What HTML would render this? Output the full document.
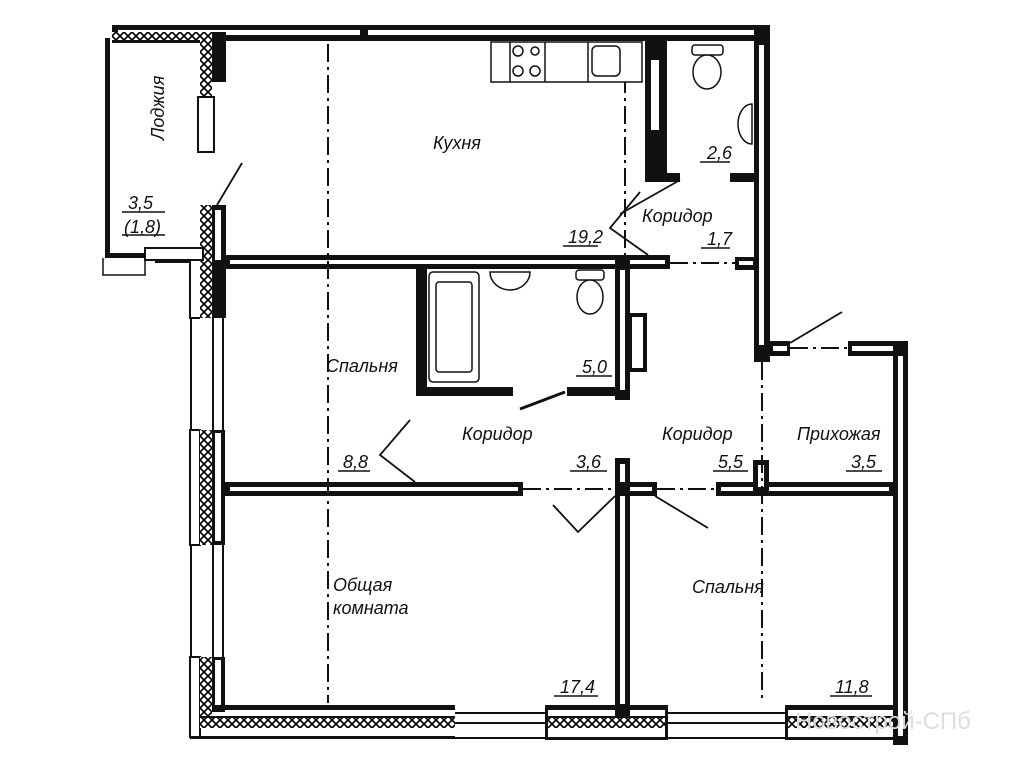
<!DOCTYPE html>
<html><head><meta charset="utf-8"><style>
html,body{margin:0;padding:0;background:#fff;}
svg{display:block}
text{font-family:"Liberation Sans",sans-serif;font-style:italic;font-size:18px;fill:#111}
</style></head><body>
<svg width="1010" height="768" viewBox="0 0 1010 768" xmlns="http://www.w3.org/2000/svg">
<defs>
<pattern id="hx" width="8" height="8" patternUnits="userSpaceOnUse">
<rect width="8" height="8" fill="#fff"/>
<path d="M0 4 L4 0 L8 4 L4 8 Z" fill="none" stroke="#000" stroke-width="1.6"/>
</pattern>
</defs>
<g fill="#111" stroke="none">
<!-- top wall -->
<rect x="112" y="25" width="658" height="16"/>
<rect x="118" y="30" width="646" height="5" fill="#fff"/>
<rect x="360" y="25" width="8" height="16"/>
<!-- loggia -->
<rect x="105" y="38" width="5" height="220"/>
<rect x="105" y="253" width="50" height="5"/>
<rect x="112" y="32" width="100" height="10" fill="url(#hx)"/>
<rect x="112" y="40" width="100" height="3"/>
<rect x="200" y="32" width="12" height="65" fill="url(#hx)"/>
<rect x="212" y="32" width="14" height="50"/>
<rect x="198" y="97" width="16" height="55" fill="#fff" stroke="#111" stroke-width="2"/>
<rect x="200" y="205" width="12" height="113" fill="url(#hx)"/>
<rect x="212" y="205" width="14" height="113"/>
<rect x="215" y="210" width="6" height="50" fill="#fff"/>
<rect x="145" y="248" width="58" height="12" fill="#fff" stroke="#111" stroke-width="2"/>
<path d="M155 262 L190 262 L190 318 L200 318" fill="none" stroke="#111" stroke-width="2"/>
<path d="M103 258 L103 275 L145 275 L145 260" fill="none" stroke="#111" stroke-width="1.5"/>
<!-- left wall -->
<rect x="190" y="430" width="10" height="115" fill="#fff" stroke="#111" stroke-width="2"/>
<rect x="200" y="430" width="12" height="115" fill="url(#hx)"/>
<rect x="212" y="430" width="13" height="115"/>
<rect x="215" y="433" width="6" height="108" fill="#fff"/>
<rect x="190" y="657" width="10" height="80" fill="#fff" stroke="#111" stroke-width="2"/>
<rect x="200" y="657" width="12" height="70" fill="url(#hx)"/>
<rect x="212" y="657" width="13" height="55"/>
<rect x="215" y="660" width="6" height="45" fill="#fff"/>
<rect x="212" y="318" width="2" height="112"/><rect x="222" y="318" width="2" height="112"/><rect x="190" y="318" width="2" height="112"/>
<rect x="212" y="545" width="2" height="112"/><rect x="222" y="545" width="2" height="112"/><rect x="190" y="545" width="2" height="112"/>
<!-- bottom wall -->
<rect x="212" y="705" width="243" height="5"/>
<rect x="200" y="718" width="255" height="10" fill="url(#hx)"/>
<rect x="200" y="716" width="255" height="2"/>
<rect x="190" y="736" width="265" height="3"/>
<rect x="545" y="705" width="123" height="5"/>
<rect x="545" y="718" width="123" height="10" fill="url(#hx)"/>
<rect x="545" y="716" width="123" height="2"/>
<rect x="545" y="737" width="123" height="3"/>
<rect x="545" y="705" width="3" height="35"/><rect x="665" y="705" width="3" height="35"/>
<rect x="785" y="705" width="110" height="5"/>
<rect x="785" y="718" width="110" height="10" fill="url(#hx)"/>
<rect x="785" y="716" width="110" height="2"/>
<rect x="785" y="737" width="110" height="3"/>
<rect x="785" y="705" width="3" height="35"/>
<rect x="455" y="712" width="90" height="2"/><rect x="455" y="722" width="90" height="2"/><rect x="455" y="737" width="90" height="2"/>
<rect x="668" y="712" width="117" height="2"/><rect x="668" y="722" width="117" height="2"/><rect x="668" y="737" width="117" height="2"/>
<!-- right walls -->
<rect x="754" y="25" width="16" height="337"/>
<rect x="759" y="45" width="5" height="300" fill="#fff"/>
<rect x="770" y="341" width="20" height="15"/><rect x="773" y="346" width="14" height="5" fill="#fff"/>
<rect x="848" y="341" width="60" height="15"/><rect x="852" y="346" width="52" height="5" fill="#fff"/>
<rect x="893" y="341" width="15" height="404"/><rect x="898" y="356" width="5" height="380" fill="#fff"/>
<!-- kitchen/bedroom wall -->
<rect x="225" y="255" width="445" height="14"/>
<rect x="230" y="260" width="435" height="4" fill="#fff"/>
<rect x="735" y="257" width="20" height="13"/><rect x="739" y="261" width="14" height="4" fill="#fff"/>
<!-- WC upper -->
<rect x="645" y="40" width="22" height="142"/>
<rect x="651" y="60" width="8" height="70" fill="#fff"/>
<rect x="645" y="173" width="35" height="9"/>
<rect x="730" y="173" width="26" height="9"/>
<!-- bathroom -->
<rect x="416" y="268" width="11" height="128"/>
<rect x="416" y="387" width="97" height="9"/>
<rect x="567" y="387" width="63" height="9"/>
<rect x="615" y="258" width="15" height="142"/>
<rect x="620" y="270" width="5" height="120" fill="#fff"/>
<rect x="630" y="315" width="15" height="55" fill="#fff" stroke="#111" stroke-width="4"/>
<!-- middle horizontal walls -->
<rect x="225" y="482" width="298" height="14"/>
<rect x="230" y="487" width="288" height="4" fill="#fff"/>
<rect x="615" y="458" width="15" height="258"/>
<rect x="620" y="464" width="5" height="240" fill="#fff"/>
<rect x="615" y="482" width="42" height="14"/><rect x="630" y="487" width="22" height="4" fill="#fff"/>
<rect x="716" y="482" width="178" height="14"/><rect x="721" y="487" width="168" height="4" fill="#fff"/>
<rect x="753" y="460" width="16" height="36"/><rect x="758" y="465" width="6" height="22" fill="#fff"/>
</g>
<!-- axis lines -->
<g stroke="#111" stroke-width="2" stroke-dasharray="18,5,3,5" fill="none">
<line x1="328" y1="44" x2="328" y2="703"/>
<line x1="625" y1="44" x2="625" y2="255"/>
<line x1="762" y1="362" x2="762" y2="703"/>
<line x1="523" y1="489" x2="615" y2="489"/>
<line x1="657" y1="489" x2="716" y2="489"/>
<line x1="670" y1="263" x2="735" y2="263"/>
<line x1="790" y1="348" x2="848" y2="348"/>
</g>
<!-- door swings / leaders -->
<g stroke="#111" stroke-width="1.8" fill="none">
<line x1="217" y1="205" x2="242" y2="163"/>
<line x1="680" y1="180" x2="620" y2="214"/>
<path d="M640 192 L610 228 L648 255"/>
<line x1="790" y1="343" x2="842" y2="312"/>
<path d="M410 420 L380 455 L415 482"/>
<line x1="520" y1="409" x2="565" y2="392" stroke-width="3"/>
<path d="M553 505 L578 532 L615 496"/>
<line x1="655" y1="496" x2="708" y2="528"/>
</g>
<!-- fixtures -->
<g fill="#fff" stroke="#111" stroke-width="1.5">
<rect x="491" y="42" width="151" height="40"/>
<line x1="510" y1="42" x2="510" y2="82"/><line x1="545" y1="42" x2="545" y2="82"/><line x1="588" y1="42" x2="588" y2="82"/>
<circle cx="518" cy="51" r="5"/><circle cx="535" cy="51" r="4"/><circle cx="518" cy="71" r="5"/><circle cx="535" cy="71" r="5"/>
<rect x="592" y="46" width="28" height="30" rx="5"/>
<rect x="692" y="45" width="31" height="10" rx="3"/>
<ellipse cx="707" cy="72" rx="14" ry="17"/>
<path d="M752 104 A14 20 0 0 0 752 144 Z"/>
<rect x="429" y="272" width="50" height="110" rx="4"/>
<rect x="436" y="282" width="36" height="90" rx="3"/>
<path d="M490 272 A20 18 0 0 0 530 272 Z"/>
<rect x="576" y="270" width="28" height="10" rx="3"/>
<ellipse cx="590" cy="297" rx="13" ry="17"/>
</g>
<!-- labels -->
<text x="0" y="0" transform="translate(164,140) rotate(-90)" font-size="18">Лоджия</text>
<text x="128" y="209">3,5</text>
<text x="124" y="233">(1,8)</text>
<line x1="122" y1="212" x2="165" y2="212" stroke="#111" stroke-width="1.5"/>
<line x1="122" y1="235" x2="165" y2="235" stroke="#111" stroke-width="1.5"/>
<text x="433" y="149">Кухня</text>
<text x="707" y="159">2,6</text><line x1="700" y1="162" x2="730" y2="162" stroke="#111" stroke-width="1.5"/>
<text x="642" y="222">Коридор</text>
<text x="568" y="243">19,2</text><line x1="563" y1="246" x2="598" y2="246" stroke="#111" stroke-width="1.5"/>
<text x="707" y="245">1,7</text><line x1="701" y1="248" x2="730" y2="248" stroke="#111" stroke-width="1.5"/>
<text x="326" y="372">Спальня</text>
<text x="582" y="373">5,0</text><line x1="576" y1="376" x2="612" y2="376" stroke="#111" stroke-width="1.5"/>
<text x="462" y="440">Коридор</text>
<text x="662" y="440">Коридор</text>
<text x="797" y="440">Прихожая</text>
<text x="343" y="468">8,8</text><line x1="338" y1="471" x2="370" y2="471" stroke="#111" stroke-width="1.5"/>
<text x="576" y="468">3,6</text><line x1="570" y1="471" x2="607" y2="471" stroke="#111" stroke-width="1.5"/>
<text x="718" y="468">5,5</text><line x1="713" y1="471" x2="748" y2="471" stroke="#111" stroke-width="1.5"/>
<text x="851" y="468">3,5</text><line x1="846" y1="471" x2="882" y2="471" stroke="#111" stroke-width="1.5"/>
<text x="333" y="591">Общая</text>
<text x="333" y="614">комната</text>
<text x="692" y="593">Спальня</text>
<text x="560" y="693">17,4</text><line x1="554" y1="696" x2="598" y2="696" stroke="#111" stroke-width="1.5"/>
<text x="835" y="693">11,8</text><line x1="830" y1="696" x2="872" y2="696" stroke="#111" stroke-width="1.5"/>
<text x="795" y="729" style="font-style:normal;font-size:24px;fill:#ddd">Новострой-СПб</text>
</svg>
</body></html>
